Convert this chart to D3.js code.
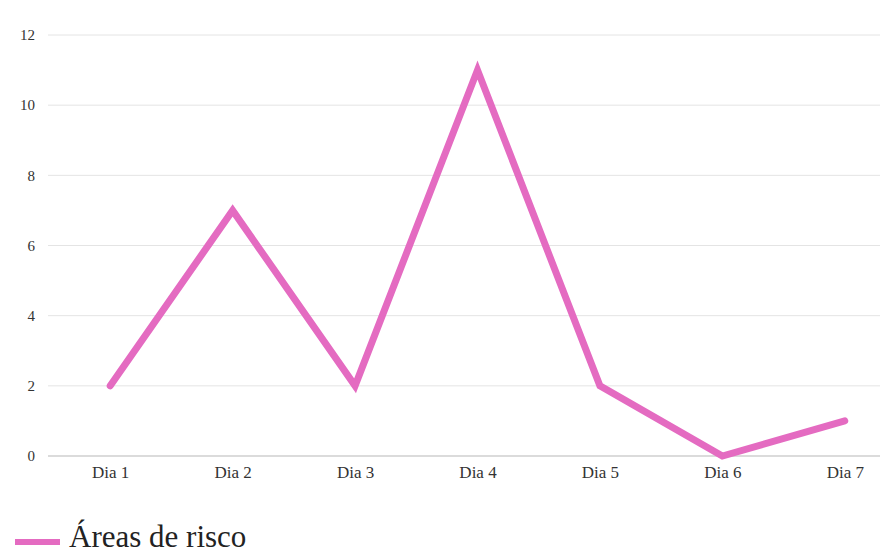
<!DOCTYPE html>
<html>
<head>
<meta charset="utf-8">
<script src="https://cdn.jsdelivr.net/npm/d3@7"></script>
<style>
  html, body { margin: 0; padding: 0; background: #fff; }
  svg { display: block; }
</style>
</head>
<body>
<svg id="chart" width="896" height="553"></svg>
<script>
// Daily count of risk areas
const days = ["Dia 1", "Dia 2", "Dia 3", "Dia 4", "Dia 5", "Dia 6", "Dia 7"];
const riskAreas = [2, 7, 2, 11, 2, 0, 1];
const yTicks = [0, 2, 4, 6, 8, 10, 12];
const seriesName = "Áreas de risco";

const svg = d3.select("#chart");
const font = "'Liberation Serif', 'Times New Roman', serif";
const lineColor = "#e46bc1";

const plot = { left: 48, right: 880, top: 35, bottom: 456 };

const x = d3.scalePoint()
  .domain(days)
  .range([49, 906])
  .padding(0.5);

const y = d3.scaleLinear()
  .domain([0, 12])
  .range([plot.bottom, plot.top]);

// Horizontal gridlines
svg.append("g")
  .selectAll("line")
  .data(yTicks.filter(d => d !== 0))
  .join("line")
  .attr("x1", plot.left)
  .attr("x2", plot.right)
  .attr("y1", d => y(d))
  .attr("y2", d => y(d))
  .attr("stroke", "#e4e4e4")
  .attr("stroke-width", 1);

// Baseline
svg.append("line")
  .attr("x1", plot.left)
  .attr("x2", plot.right)
  .attr("y1", y(0))
  .attr("y2", y(0))
  .attr("stroke", "#b8b8b8")
  .attr("stroke-width", 1.2);

// Y axis labels
const yAxis = d3.axisLeft(y).tickValues(yTicks).tickSize(0).tickPadding(0);
const gy = svg.append("g")
  .attr("transform", `translate(35,0)`)
  .call(yAxis);
gy.select(".domain").remove();
gy.selectAll("text")
  .attr("font-family", font)
  .attr("font-size", 15)
  .attr("fill", "#333");

// X axis labels
const xAxis = d3.axisBottom(x).tickSize(0).tickPadding(0);
const gx = svg.append("g")
  .attr("transform", `translate(0,${y(0) + 10})`)
  .call(xAxis);
gx.select(".domain").remove();
gx.selectAll("text")
  .attr("font-family", font)
  .attr("font-size", 17)
  .attr("fill", "#333");

// Series line
const line = d3.line()
  .x((d, i) => x(days[i]))
  .y(d => y(d));

svg.append("path")
  .datum(riskAreas)
  .attr("d", line)
  .attr("fill", "none")
  .attr("stroke", lineColor)
  .attr("stroke-width", 7)
  .attr("stroke-linejoin", "miter")
  .attr("stroke-linecap", "round");

// Legend
const legend = svg.append("g").attr("transform", "translate(0,542)");
legend.append("line")
  .attr("x1", 15).attr("x2", 60)
  .attr("y1", 0).attr("y2", 0)
  .attr("stroke", lineColor)
  .attr("stroke-width", 6);
legend.append("text")
  .attr("x", 69)
  .attr("y", 5)
  .attr("font-family", font)
  .attr("font-size", 31)
  .attr("fill", "#222")
  .text(seriesName);
</script>
</body>
</html>
